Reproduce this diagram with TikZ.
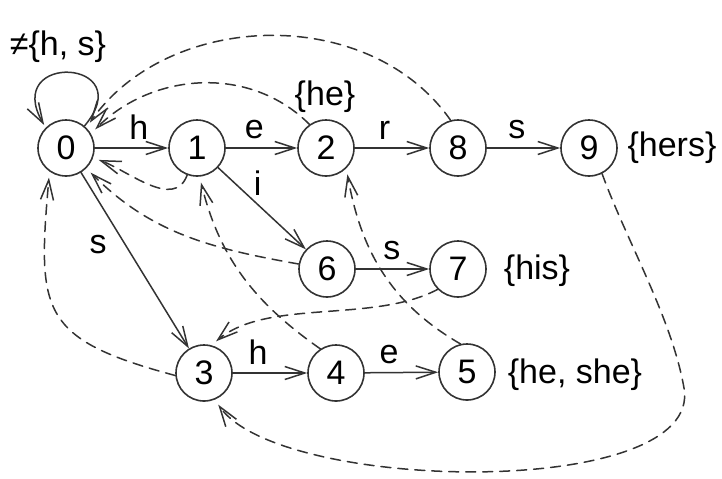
\documentclass[tikz,border=0pt]{standalone}
\usepackage{fontspec}
\setmainfont{Liberation Sans}
\usetikzlibrary{arrows.meta}
\tikzset{
  state/.style={circle, draw=black!80, line width=0.8pt, minimum size=28pt, inner sep=0pt},
  trans/.style={draw=black!80, line width=0.75pt, -{Straight Barb[length=10pt,width=6.5pt]}},
  fail/.style={trans, dash pattern=on 5pt off 3.5pt, shorten >=3pt},
  sym/.style={inner sep=4pt},
  accept/.style={inner sep=0pt}
}
\begin{document}
\begin{tikzpicture}[x=0.5pt, y=-0.5pt, line cap=round, line join=round, font=\fontsize{17}{20}\selectfont]
  \useasboundingbox (0,0) rectangle (722,478);
  \foreach \n/\x/\y in {0/66/148, 1/197/148, 2/326/148, 8/458/148, 9/589/148, 6/327/269, 7/458/269, 3/204/373, 4/336/373, 5/467/372}
    \node[state] (n\n) at (\x,\y) {\n};
  \node[accept] (o0) at (58,47) {≠\{h, s\}};
  \node[accept] (o2) at (325,97) {\{he\}};
  \node[accept] (o9) at (672,148) {\{hers\}};
  \node[accept] (o7) at (537,271) {\{his\}};
  \node[accept] (o5) at (575,375) {\{he, she\}};
  \foreach \a/\b/\t/\p in {n0/n1/h/0.6, n1/n2/e/0.4, n2/n8/r/0.4, n8/n9/s/0.41, n6/n7/s/0.49, n3/n4/h/0.34, n4/n5/e/0.33}
    \draw[trans] (\a) -- node[sym, pos=\p, above]{\t} (\b);
  \draw[trans] (n1) -- node[sym, pos=0.45, above]{i} (n6);
  \draw[trans] (n0) -- node[sym, pos=0.41, left=5pt]{s} (n3);
  \draw[trans, shorten >=1.5pt] (n0.50) to[out=50, in=120, distance=44pt] (n0.135);
  \draw[fail] (n1) to[out=-110, in=-20] (n0);
  \draw[fail] (n2.125) to[out=135, in=45] (n0.30);
  \draw[fail] (n8.105) to[out=125, in=55] (n0.45);
  \draw[fail] (n6) to[out=170, in=-45] (n0);
  \draw[fail] (n3.185) to[out=165, in=-95, looseness=1.5] (n0.-125);
  \draw[fail] (n4.123) to[out=145, in=-76] (n1.-85);
  \draw[fail] (n5.103) to[out=150, in=-80] (n2.-45);
  \draw[fail] (n7.-135) to[out=-152, in=40, looseness=0.8] (n3.75);
  \coordinate (turn9) at (684,388);
  \draw[fail] (n9.-63) to[out=-70, in=100, looseness=0.8] (turn9) to[out=-80, in=-55, looseness=0.62] (n3.-68);
\end{tikzpicture}
\end{document}
